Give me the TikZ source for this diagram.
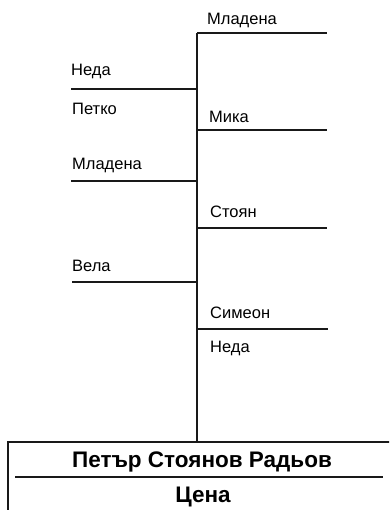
\documentclass[tikz,border=0pt]{standalone}
\usepackage{fontspec}
\setmainfont{Liberation Sans}
\usetikzlibrary{positioning}

\begin{document}
\begin{tikzpicture}[x=1pt, y=-1pt,
  person/.style={anchor=base west, inner sep=0pt, font=\fontsize{16.5}{19}\selectfont},
  owner/.style={anchor=base, inner sep=0pt, font=\bfseries\fontsize{22.5}{25}\selectfont},
  branch/.style={line width=1.5pt, black!90}]
  \useasboundingbox (0,0) rectangle (389,510);
  \clip (0,0) rectangle (389,510);
  % trunk
  \coordinate (top) at (197,33);
  \coordinate (foot) at (197,442);
  \draw[branch] (top) -- (foot);
  % right side
  \coordinate (r1) at (327,33);
  \coordinate (r2a) at (197,130);  \coordinate (r2) at (327,130);
  \coordinate (r3a) at (197,228);  \coordinate (r3) at (327,228);
  \coordinate (r4a) at (197,329);  \coordinate (r4) at (328,329);
  \draw[branch] (top) -- (r1);
  \draw[branch] (r2a) -- (r2);
  \draw[branch] (r3a) -- (r3);
  \draw[branch] (r4a) -- (r4);
  \node[person] (mladena1) at (207,25) {Младена};
  \node[person] (mika) at (209,123) {Мика};
  \node[person] (stoyan) at (210,218) {Стоян};
  \node[person] (simeon) at (210,318) {Симеон};
  \node[person] (neda2) at (210,352) {Неда};
  % left side
  \coordinate (l1) at (71,89);   \coordinate (l1a) at (197,89);
  \coordinate (l2) at (71,181);  \coordinate (l2a) at (197,181);
  \coordinate (l3) at (72,282);  \coordinate (l3a) at (197,282);
  \draw[branch] (l1) -- (l1a);
  \draw[branch] (l2) -- (l2a);
  \draw[branch] (l3) -- (l3a);
  \node[person] (neda1) at (71,76) {Неда};
  \node[person] (petko) at (72,115) {Петко};
  \node[person] (mladena2) at (72,170) {Младена};
  \node[person] (vela) at (72,271) {Вела};
  % plate at the bottom
  \draw[branch] (8,442) rectangle (400,520);
  \draw[branch] (15,477) -- (383,477);
  \node[owner] (name) at (202,467) {Петър Стоянов Радьов};
  \node[owner] (price) at (203,502) {Цена};
\end{tikzpicture}
\end{document}
